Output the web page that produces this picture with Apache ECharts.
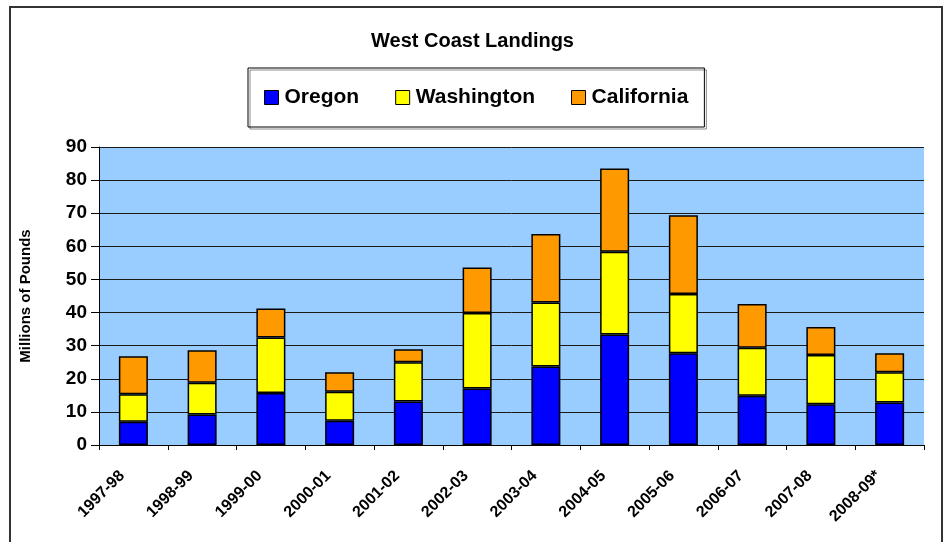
<!DOCTYPE html>
<html>
<head>
<meta charset="utf-8">
<script src="https://cdn.jsdelivr.net/npm/echarts@6/dist/echarts.min.js"></script>
<style>
  html, body { margin: 0; padding: 0; background: #fff; }
  #chart { width: 945px; height: 542px; }
</style>
</head>
<body>
<div id="chart"></div>
<script>
  var seasons = ['1997-98', '1998-99', '1999-00', '2000-01', '2001-02', '2002-03',
                 '2003-04', '2004-05', '2005-06', '2006-07', '2007-08', '2008-09*'];
  // millions of pounds, stacked
  var oregon     = [7.0, 9.2, 15.7, 7.3, 13.1, 17.1, 23.7, 33.4, 27.7, 14.9, 12.3, 12.8];
  var washington = [8.3, 9.6, 16.8, 8.8, 11.9, 22.8, 19.3, 25.0, 17.9, 14.5, 14.9, 9.2];
  var california = [11.5, 9.8, 8.7, 5.9, 3.9, 13.7, 20.7, 25.1, 23.8, 13.2, 8.4, 5.7];

  var font = '"Liberation Sans", Arial, sans-serif';
  var myChart = echarts.init(document.getElementById('chart'));

  function barSeries(name, data, color) {
    return {
      name: name,
      type: 'bar',
      stack: 'total',
      barWidth: 29,
      itemStyle: { color: color, borderColor: '#000', borderWidth: 1.5 },
      emphasis: { disabled: true },
      data: data
    };
  }

  var option = {
    backgroundColor: '#fff',
    animation: false,
    textStyle: { fontFamily: font },
    title: {
      text: 'West Coast Landings',
      left: 'center',
      top: 26,
      textStyle: { fontFamily: font, fontSize: 20, fontWeight: 'bold', color: '#000' }
    },
    legend: {
      left: 248,
      top: 68,
      padding: [19, 16, 19, 16],
      itemGap: 36,
      itemWidth: 14,
      itemHeight: 14,
      icon: 'rect',
      borderColor: '#000',
      borderWidth: 1,
      shadowColor: 'rgba(0,0,0,0.45)',
      shadowOffsetX: 2,
      shadowOffsetY: 2,
      shadowBlur: 0,
      itemStyle: { borderColor: '#000', borderWidth: 1 },
      textStyle: { fontFamily: font, fontSize: 21, fontWeight: 'bold', color: '#000', padding: [0, 0, 0, 1] },
      data: ['Oregon', 'Washington', 'California']
    },
    graphic: [{
      type: 'rect',
      shape: { x: 10, y: 7, width: 932, height: 560 },
      style: { fill: null, stroke: '#333', lineWidth: 2 },
      silent: true,
      z: 0
    }],
    grid: {
      left: 99,
      right: 21,
      top: 147,
      bottom: 97,
      show: true,
      backgroundColor: '#99ccff',
      borderWidth: 0
    },
    xAxis: {
      type: 'category',
      data: seasons,
      boundaryGap: true,
      axisLine: { lineStyle: { color: '#000', width: 1 } },
      axisTick: { show: true, length: 5, lineStyle: { color: '#000' } },
      axisLabel: {
        rotate: 45,
        interval: 0,
        margin: 17,
        padding: [0, 16, 0, 0],
        fontFamily: font,
        fontSize: 16,
        fontWeight: 'bold',
        color: '#000'
      }
    },
    yAxis: {
      type: 'value',
      min: 0,
      max: 90,
      interval: 10,
      name: 'Millions of Pounds',
      nameLocation: 'middle',
      nameGap: 66,
      nameTextStyle: { fontFamily: font, fontSize: 15, fontWeight: 'bold', color: '#000' },
      axisLine: { show: true, lineStyle: { color: '#000', width: 1 } },
      axisTick: { show: true, length: 8, lineStyle: { color: '#000' } },
      axisLabel: {
        margin: 12,
        fontFamily: font,
        fontSize: 19,
        fontWeight: 'bold',
        color: '#000'
      },
      splitLine: { show: true, lineStyle: { color: '#1a1a1a', width: 1 } }
    },
    series: [
      barSeries('Oregon', oregon, '#0000ff'),
      barSeries('Washington', washington, '#ffff00'),
      barSeries('California', california, '#ff9900')
    ]
  };

  myChart.setOption(option);
</script>
</body>
</html>
